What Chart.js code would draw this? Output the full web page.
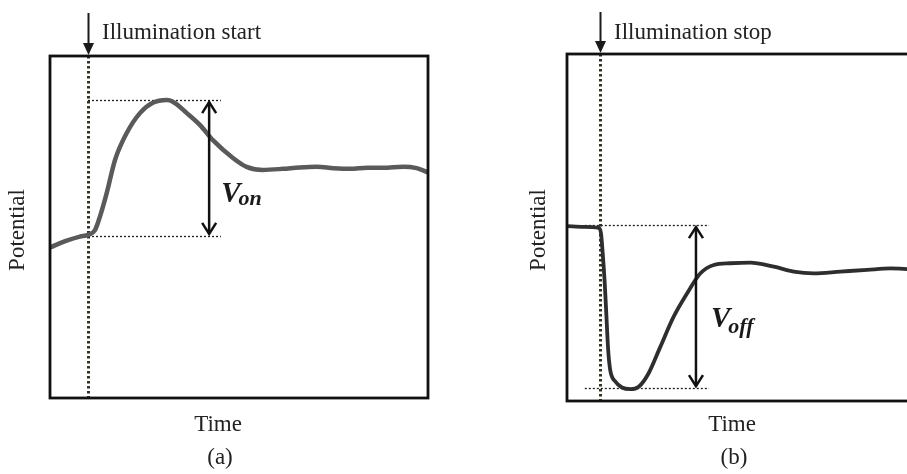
<!DOCTYPE html>
<html><head><meta charset="utf-8">
<script src="https://cdn.jsdelivr.net/npm/chart.js@4"></script>
<style>
html,body{margin:0;padding:0;background:#fff;overflow:hidden;width:907px;height:474px;}
canvas{position:absolute;top:0;}
#ca{left:0;}
#cb{left:457px;}
</style></head><body>
<canvas id="ca" width="453" height="474"></canvas>
<canvas id="cb" width="455" height="474"></canvas>
<script>
// ---- data (arbitrary units, 0..100) ----
const timeA = [0, 4.4, 7.9, 10.1, 11.9, 13.2, 15.0, 17.2, 20.3, 23.8, 27.2, 30.9, 32.5, 36.2, 39.7, 43.1, 48.4, 52.0, 56.3, 61.6, 66.0, 70.6, 75.0, 79.4, 84.0, 88.1, 93.4, 97.0, 100];
const potentialA = [44.0, 46.0, 47.2, 47.7, 49.1, 53.0, 59.9, 69.6, 77.5, 83.3, 86.3, 87.1, 86.6, 83.3, 79.8, 75.4, 70.2, 67.6, 66.7, 67.0, 67.4, 67.6, 67.2, 67.0, 67.3, 67.3, 67.6, 67.2, 66.0];
const timeB = [0, 4.9, 9.2, 9.9, 10.4, 11.0, 11.5, 12.0, 12.6, 14.1, 16.0, 18.5, 20.9, 23.8, 27.2, 31.1, 35.0, 38.9, 42.8, 47.6, 53.4, 60.3, 66.1, 71.9, 79.7, 87.5, 94.3, 100];
const potentialB = [50.4, 50.2, 49.9, 48.4, 42.7, 34.0, 24.3, 14.7, 8.9, 5.6, 3.9, 3.4, 4.1, 8.0, 15.6, 24.3, 31.0, 36.8, 39.2, 39.7, 39.9, 38.7, 37.3, 36.8, 37.3, 37.8, 38.2, 38.0];

// annotation values (panel a, panel b)
const eventTime = [10.05, 9.6];
const guideStart = [10.05, 5.2];
const guideEnd = [45.2, 41.4];
const levelLow = [47.4, 3.7];
const levelHigh = [87.1, 50.7];
const arrowTime = [42.1, 37.6];
const eventLabels = ['Illumination start', 'Illumination stop'];
const magnitudeSubs = ['on', 'off'];
const panelLabels = ['(a)', '(b)'];
const xTitle = 'Time';
const yTitle = 'Potential';

const SERIF = '"Liberation Serif", "Times New Roman", serif';

function makePanel(id, idx, times, values, cfg) {
  const pts = times.map((t, i) => ({x: t, y: values[i]}));
  const annot = {
    id: 'annot' + idx,
    beforeDatasetsDraw(chart) {
      const {ctx, chartArea: ca, scales: {x, y}} = chart;
      ctx.save();
      // vertical dotted event line
      const ex = Math.round(x.getPixelForValue(eventTime[idx]));
      ctx.strokeStyle = '#35321f';
      ctx.lineWidth = 3;
      ctx.setLineDash([2.5, 2.5]);
      ctx.beginPath(); ctx.moveTo(ex + 0.5, ca.top); ctx.lineTo(ex + 0.5, ca.bottom); ctx.stroke();
      // horizontal dotted guides
      ctx.strokeStyle = '#1e1e1e';
      ctx.lineWidth = 1.3;
      ctx.setLineDash([2, 2]);
      const gx0 = x.getPixelForValue(guideStart[idx]);
      const gx1 = x.getPixelForValue(guideEnd[idx]);
      [levelLow[idx], levelHigh[idx]].forEach(v => {
        const py = Math.round(y.getPixelForValue(v)) + 0.5;
        ctx.beginPath(); ctx.moveTo(gx0, py); ctx.lineTo(gx1, py); ctx.stroke();
      });
      ctx.restore();
    },
    afterDraw(chart) {
      const {ctx, chartArea: ca, scales: {x, y}} = chart;
      ctx.save();
      // frame
      ctx.strokeStyle = '#111';
      ctx.lineWidth = 2.8;
      ctx.strokeRect(ca.left, ca.top, ca.right - ca.left, ca.bottom - ca.top);
      // down arrow above event line
      const ex = Math.round(x.getPixelForValue(eventTime[idx])) + 0.5;
      const tip = ca.top - 1;
      ctx.strokeStyle = '#1a1a1a'; ctx.fillStyle = '#1a1a1a';
      ctx.lineWidth = 2;
      ctx.beginPath(); ctx.moveTo(ex, cfg.arrowTop); ctx.lineTo(ex, tip - 8); ctx.stroke();
      ctx.beginPath(); ctx.moveTo(ex - 5.5, tip - 12); ctx.lineTo(ex + 5.5, tip - 12); ctx.lineTo(ex, tip); ctx.closePath(); ctx.fill();
      // event label
      ctx.fillStyle = '#222';
      ctx.font = '23px ' + SERIF;
      ctx.textAlign = 'left'; ctx.textBaseline = 'alphabetic';
      ctx.fillText(eventLabels[idx], ex + 13.5, 39);
      // double arrow
      const ax = x.getPixelForValue(arrowTime[idx]);
      const yHi = y.getPixelForValue(levelHigh[idx]) + 2;
      const yLo = y.getPixelForValue(levelLow[idx]) - 2;
      ctx.strokeStyle = '#111'; ctx.lineWidth = 2.5;
      ctx.beginPath(); ctx.moveTo(ax, yHi); ctx.lineTo(ax, yLo); ctx.stroke();
      ctx.beginPath(); ctx.moveTo(ax - 7, yHi + 11); ctx.lineTo(ax, yHi); ctx.lineTo(ax + 7, yHi + 11); ctx.stroke();
      ctx.beginPath(); ctx.moveTo(ax - 7, yLo - 11); ctx.lineTo(ax, yLo); ctx.lineTo(ax + 7, yLo - 11); ctx.stroke();
      // V label
      const vb = yHi + (yLo - yHi) * cfg.labelFrac;
      ctx.fillStyle = '#1a1a1a';
      ctx.font = 'italic bold 29px ' + SERIF;
      ctx.fillText('V', ax + cfg.labelDx, vb);
      const vw = ctx.measureText('V').width;
      ctx.font = 'italic bold 22px ' + SERIF;
      ctx.fillText(magnitudeSubs[idx], ax + cfg.labelDx + vw - 2, vb + cfg.subDy);
      // axis titles
      ctx.fillStyle = '#222';
      ctx.font = '23px ' + SERIF;
      ctx.textAlign = 'center'; ctx.textBaseline = 'middle';
      ctx.fillText(xTitle, ca.left + cfg.titleDx, ca.bottom + cfg.timeDy);
      ctx.fillText(panelLabels[idx], ca.left + cfg.titleDx + 2, ca.bottom + cfg.panelDy);
      ctx.save();
      ctx.translate(ca.left - cfg.potDx, 230);
      ctx.rotate(-Math.PI / 2);
      ctx.fillText(yTitle, 0, 0);
      ctx.restore();
      ctx.restore();
    }
  };
  return new Chart(document.getElementById(id), {
    type: 'line',
    data: {datasets: [{
      data: pts,
      borderColor: cfg.lineColor,
      borderWidth: cfg.lineWidth,
      pointRadius: 0,
      cubicInterpolationMode: 'monotone',
      fill: false
    }]},
    options: {
      responsive: false,
      animation: false,
      devicePixelRatio: 1,
      layout: {padding: cfg.padding},
      plugins: {legend: {display: false}, tooltip: {enabled: false}},
      scales: {
        x: {type: 'linear', min: 0, max: 100, display: false},
        y: {min: 0, max: 100, display: false}
      }
    },
    plugins: [annot]
  });
}

makePanel('ca', 0, timeA, potentialA, {
  padding: {left: 50, top: 56, right: 25, bottom: 76},
  lineColor: '#5a5a5a', lineWidth: 4.5,
  arrowTop: 13, labelFrac: 0.757, labelDx: 12, subDy: 3,
  titleDx: 168, timeDy: 27, panelDy: 60, potDx: 32
});
makePanel('cb', 1, timeB, potentialB, {
  padding: {left: 110, top: 54, right: 2, bottom: 73},
  lineColor: '#2e2e2e', lineWidth: 3.8,
  arrowTop: 12, labelFrac: 0.63, labelDx: 15, subDy: 6,
  titleDx: 165, timeDy: 24, panelDy: 57, potDx: 28
});
</script>
</body></html>
